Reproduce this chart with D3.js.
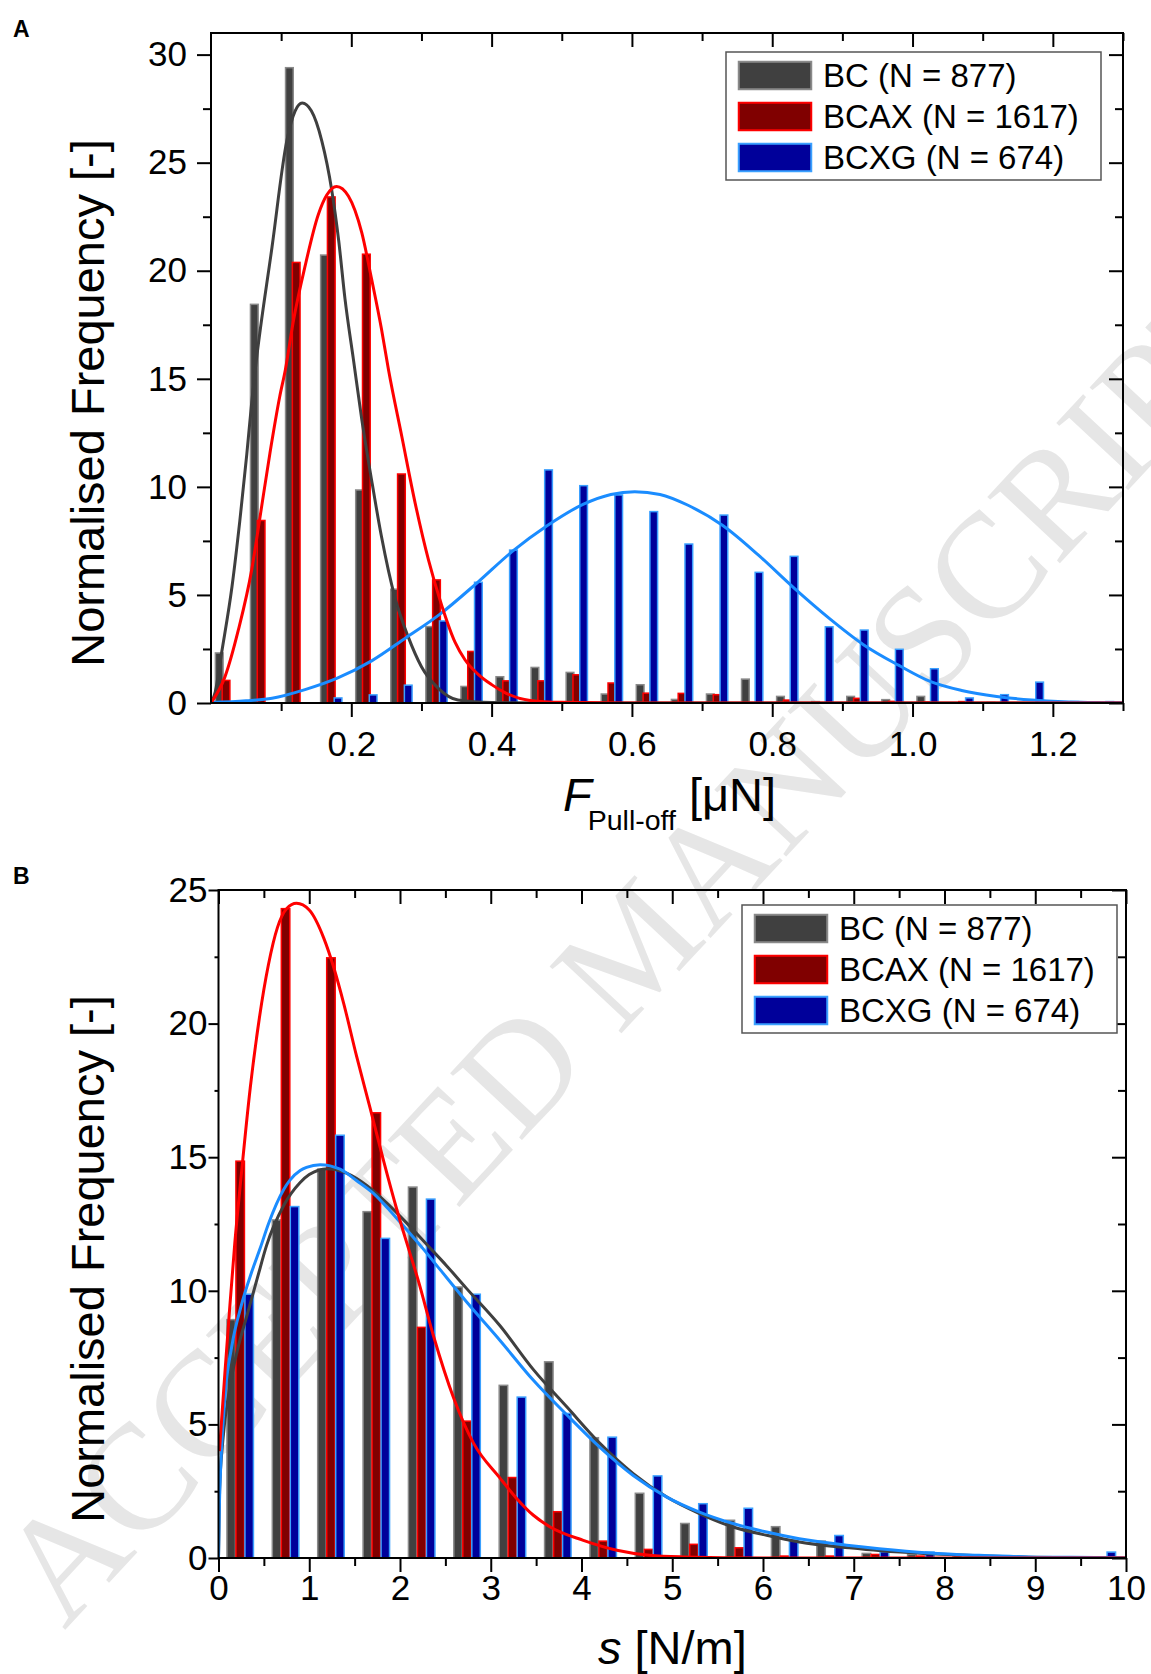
<!DOCTYPE html>
<html><head><meta charset="utf-8">
<script src="https://cdn.jsdelivr.net/npm/d3@7"></script>
<style>body{margin:0;background:#fff} svg{display:block}</style>
</head><body>
<svg id="c" width="1151" height="1674"></svg>
<script>
// ---------------- DATA ----------------
const seriesNames = ["BC (N = 877)", "BCAX (N = 1617)", "BCXG (N = 674)"];

// Panel A: pull-off force histogram (bin centres, µN)
const binsA = [0.025,0.075,0.125,0.175,0.225,0.275,0.325,0.375,0.425,0.475,0.525,0.575,0.625,0.675,0.725,0.775,0.825,0.875,0.925,0.975,1.025,1.075,1.125,1.175,1.225,1.275];
const bcA   = [2.35,18.48,29.43,20.76,9.89,5.3,3.57,0.80,1.25,1.68,1.45,0.45,0.88,0.2,0.45,1.14,0.34,0.1,0.34,0.19,0.34,0,0.06,0,0.06,0.06];
const bcaxA = [1.08,8.48,20.42,23.45,20.8,10.63,5.73,2.42,1.06,1.06,1.34,0.96,0.49,0.48,0.42,0.05,0.17,0,0.25,0.11,0.08,0.1,0,0,0,0];
const bcxgA = [0,0,0,0.27,0.41,0.86,3.83,5.62,7.11,10.82,10.09,9.66,8.89,7.39,8.73,6.08,6.82,3.56,3.41,2.52,1.62,0.27,0.42,1.0,0.1,0.1];

// Panel A fitted curves
const fitA_BC = [[0,0],[0.006,0.5],[0.015,2.3],[0.03,5.4],[0.041,8.4],[0.051,11.5],[0.058,13.9],[0.063,15.4],[0.087,21.1],[0.108,26.0],[0.12,27.4],[0.13,27.76],[0.143,27.4],[0.158,26.0],[0.172,23.75],[0.182,21.4],[0.191,18.7],[0.203,15.9],[0.215,13.1],[0.229,10.3],[0.243,7.7],[0.262,4.9],[0.281,3.07],[0.3,1.68],[0.324,0.68],[0.352,0.14],[0.4,0.02],[0.5,0],[1.3,0]];
const fitA_BCAX = [[0,0],[0.02,1.22],[0.039,3.38],[0.058,6.16],[0.07,8.63],[0.084,11.56],[0.098,14.18],[0.106,15.42],[0.117,17.6],[0.134,20.2],[0.153,22.6],[0.165,23.5],[0.179,23.9],[0.196,23.45],[0.215,21.75],[0.229,19.6],[0.243,17.3],[0.253,15.42],[0.272,12.33],[0.291,9.25],[0.31,6.62],[0.329,4.5],[0.348,2.8],[0.362,2.0],[0.38,1.35],[0.4,0.85],[0.421,0.45],[0.455,0.12],[0.5,0.03],[0.6,0],[1.3,0]];
const fitA_BCXG = [[0,0.02],[0.05,0.1],[0.087,0.22],[0.134,0.62],[0.18,1.15],[0.229,1.95],[0.277,3.0],[0.326,4.1],[0.379,5.55],[0.429,7.0],[0.479,8.2],[0.531,9.2],[0.57,9.65],[0.604,9.78],[0.64,9.65],[0.68,9.15],[0.73,8.2],[0.78,6.85],[0.83,5.35],[0.88,3.95],[0.93,2.7],[0.98,1.75],[1.025,1.0],[1.07,0.58],[1.12,0.3],[1.17,0.14],[1.215,0.06],[1.3,0.01]];

// Panel B: stiffness histogram (bin centres, N/m)
const binsB = [0.25,0.75,1.25,1.75,2.25,2.75,3.25,3.75,4.25,4.75,5.25,5.75,6.25,6.75,7.25,7.75,8.25,8.75,9.25,9.75];
const bcB   = [8.95,12.68,14.58,12.99,13.91,10.17,6.49,7.37,4.53,2.45,1.32,1.44,1.2,0.66,0.2,0.16,0.12,0.05,0,0];
const bcaxB = [14.88,24.33,22.49,16.69,8.66,5.15,3.04,1.76,0.66,0.35,0.54,0.41,0.1,0.1,0.16,0.1,0.03,0.02,0,0];
const bcxgB = [9.9,13.18,15.85,11.99,13.46,9.9,6.05,5.44,4.55,3.1,2.06,1.89,0.7,0.87,0.26,0.25,0.1,0.05,0,0.25];

const fitB_BC = [[0,0],[0.012,2.5],[0.048,4.4],[0.12,6.3],[0.21,7.8],[0.32,9.15],[0.43,10.5],[0.53,11.7],[0.72,13.2],[0.9,14.05],[1.0,14.35],[1.2,14.57],[1.41,14.4],[1.63,13.95],[1.85,13.3],[2.07,12.55],[2.29,11.75],[2.51,10.95],[2.73,10.1],[3.1,8.7],[3.47,7.05],[3.84,5.65],[4.2,4.3],[4.57,3.16],[4.94,2.28],[5.3,1.66],[5.67,1.16],[6.04,0.85],[6.4,0.6],[6.95,0.38],[7.3,0.27],[7.83,0.16],[8.38,0.08],[8.93,0.03],[9.5,0.01],[10,0]];
const fitB_BCAX = [[0.01,4.0],[0.07,6.9],[0.12,9.2],[0.18,11.8],[0.25,14.3],[0.35,17.6],[0.45,20.2],[0.55,22.2],[0.65,23.6],[0.75,24.3],[0.86,24.5],[1.0,24.25],[1.16,23.2],[1.27,22.1],[1.38,20.75],[1.52,18.8],[1.67,16.85],[1.82,14.85],[1.96,13.1],[2.11,11.4],[2.2,10.4],[2.37,8.3],[2.59,6.0],[2.81,4.3],[3.1,3.0],[3.28,2.25],[3.47,1.6],[3.65,1.17],[4.02,0.66],[4.39,0.29],[4.75,0.1],[5.12,0.04],[6,0],[10,0]];
const fitB_BCXG = [[0,0],[0.0095,1.9],[0.028,3.7],[0.072,6.1],[0.145,7.9],[0.255,9.5],[0.36,10.65],[0.46,11.6],[0.55,12.5],[0.72,13.8],[0.79,14.15],[0.9,14.5],[0.97,14.62],[1.12,14.72],[1.34,14.55],[1.52,14.13],[1.71,13.64],[1.89,13.0],[2.07,12.3],[2.26,11.55],[2.44,10.8],[2.73,9.6],[3.1,8.15],[3.47,6.65],[3.84,5.35],[4.2,4.15],[4.57,3.09],[4.94,2.28],[5.3,1.72],[5.67,1.29],[6.04,0.97],[6.4,0.72],[6.95,0.47],[7.28,0.35],[7.83,0.19],[8.38,0.1],[8.93,0.04],[9.85,0.01],[10,0]];

// Axis ticks
const xMajorA = [0.2,0.4,0.6,0.8,1.0,1.2];
const xMinorA = [0.1,0.3,0.5,0.7,0.9,1.1,1.3];
const yMajorA = [0,5,10,15,20,25,30];
const yMinorA = [2.5,7.5,12.5,17.5,22.5,27.5];
const xMajorB = [0,1,2,3,4,5,6,7,8,9,10];
const xMinorB = [0.5,1.5,2.5,3.5,4.5,5.5,6.5,7.5,8.5,9.5];
const yMajorB = [0,5,10,15,20,25];
const yMinorB = [2.5,7.5,12.5,17.5,22.5];

// ---------------- STYLE ----------------
const FONT = "'Liberation Sans', Arial, Helvetica, sans-serif";
const fills   = ["#404040", "#800000", "#00009a"];
const borders = ["#8a8a8a", "#ff0000", "#3aa0ff"];
const lineCol = ["#3f3f3f", "#ff0000", "#1a8cff"];

const svg = d3.select("#c");
svg.append("rect").attr("width",1151).attr("height",1674).attr("fill","#fff");

// watermark
svg.append("text")
  .attr("transform","translate(27,1596) rotate(-47)")
  .attr("text-anchor","start").attr("dominant-baseline","central")
  .attr("font-family","'Liberation Serif', 'Times New Roman', serif")
  .attr("font-size",150).attr("fill","#e6e6e6")
  .text("ACCEPTED MANUSCRIPT");

function panel(cfg){
  const {L,R,T,B} = cfg;
  const x = d3.scaleLinear().domain(cfg.xDom).range([L,R]);
  const y = d3.scaleLinear().domain(cfg.yDom).range([B,T]);
  const g = svg.append("g");
  const clipId = "clip"+cfg.id;
  svg.append("clipPath").attr("id",clipId).append("rect")
    .attr("x",L).attr("y",T).attr("width",R-L).attr("height",B-T);
  const plot = g.append("g").attr("clip-path",`url(#${clipId})`);

  const series = [cfg.s0, cfg.s1, cfg.s2];
  const wpx = cfg.barW, step = cfg.barStep;
  series.forEach((vals,si)=>{
    plot.append("g").selectAll("rect").data(vals.map((v,i)=>({c:cfg.bins[i],v})))
      .join("rect")
      .attr("x",d=>x(d.c)+cfg.shift+(si-1)*step-wpx/2+0.75)
      .attr("width",wpx-1.5)
      .attr("y",d=>y(d.v)+0.75)
      .attr("height",d=>Math.max(0,y(0)-y(d.v)-0.75))
      .attr("fill",fills[si]).attr("stroke",borders[si]).attr("stroke-width",1.5)
      .attr("display",d=>d.v>0?null:"none");
  });
  const line = d3.line().x(d=>x(d[0])).y(d=>y(d[1])).curve(d3.curveMonotoneX);
  [[cfg.f0,0],[cfg.f2,2],[cfg.f1,1]].forEach(([f,si])=>{
    plot.append("path").attr("d",line(f)).attr("fill","none")
      .attr("stroke",lineCol[si]).attr("stroke-width",3).attr("stroke-linejoin","round");
  });

  // axes
  const styleAxis = (sel)=>{ sel.select(".domain").remove();
    sel.selectAll("line").attr("stroke","#000").attr("stroke-width",2);
    sel.selectAll("text").attr("font-family",FONT).attr("font-size",cfg.tickFont).attr("fill","#000"); };
  g.append("g").attr("transform",`translate(0,${B})`)
    .call(d3.axisBottom(x).tickValues(cfg.xMaj).tickSize(14).tickPadding(cfg.xPad).tickFormat(cfg.xFmt)).call(styleAxis);
  g.append("g").attr("transform",`translate(0,${B})`)
    .call(d3.axisBottom(x).tickValues(cfg.xMin).tickSize(8).tickFormat("")).call(styleAxis);
  g.append("g").attr("transform",`translate(0,${T})`)
    .call(d3.axisTop(x).tickValues(cfg.xMaj).tickSize(-14).tickFormat("")).call(styleAxis);
  g.append("g").attr("transform",`translate(0,${T})`)
    .call(d3.axisTop(x).tickValues(cfg.xMin).tickSize(-8).tickFormat("")).call(styleAxis);
  g.append("g").attr("transform",`translate(${L},0)`)
    .call(d3.axisLeft(y).tickValues(cfg.yMaj).tickSize(cfg.yTick).tickPadding(cfg.yPad).tickFormat(d3.format("d"))).call(styleAxis);
  g.append("g").attr("transform",`translate(${L},0)`)
    .call(d3.axisLeft(y).tickValues(cfg.yMin).tickSize(cfg.yTick-6).tickFormat("")).call(styleAxis);
  g.append("g").attr("transform",`translate(${R},0)`)
    .call(d3.axisRight(y).tickValues(cfg.yMaj).tickSize(-14).tickFormat("")).call(styleAxis);
  g.append("g").attr("transform",`translate(${R},0)`)
    .call(d3.axisRight(y).tickValues(cfg.yMin).tickSize(-8).tickFormat("")).call(styleAxis);
  g.append("rect").attr("x",L).attr("y",T).attr("width",R-L).attr("height",B-T)
    .attr("fill","none").attr("stroke","#000").attr("stroke-width",2);

  // y title
  g.append("text").attr("transform",`translate(${cfg.yTitleX},${(T+B)/2+35}) rotate(-90)`)
    .attr("text-anchor","middle").attr("font-family",FONT).attr("font-size",47)
    .text("Normalised Frequency [-]");

  // legend
  const lg = g.append("g").attr("transform",`translate(${cfg.legX},${cfg.legY})`);
  lg.append("rect").attr("width",375).attr("height",128).attr("fill","#fff").attr("stroke","#555").attr("stroke-width",1.5);
  seriesNames.forEach((n,i)=>{
    lg.append("rect").attr("x",12.75).attr("y",9.75+i*41).attr("width",72.5).attr("height",27.5)
      .attr("fill",fills[i]).attr("stroke",borders[i]).attr("stroke-width",2);
    lg.append("text").attr("x",97).attr("y",35+i*41).attr("font-family",FONT).attr("font-size",33).text(n);
  });

  // panel letter
  g.append("text").attr("x",cfg.letX).attr("y",cfg.letY).attr("font-family",FONT)
    .attr("font-weight","bold").attr("font-size",23).text(cfg.id);
  return {x,y,g};
}

const A = panel({id:"A", L:211, R:1123, T:33, B:703, xDom:[0,1.3], yDom:[0,31],
  bins:binsA, s0:bcA, s1:bcaxA, s2:bcxgA, f0:fitA_BC, f1:fitA_BCAX, f2:fitA_BCXG,
  barW:9.2, barStep:6.8, shift:-2.5,
  xMaj:xMajorA, xMin:xMinorA, yMaj:yMajorA, yMin:yMinorA, xFmt:d3.format(".1f"),
  tickFont:35, xPad:14, yPad:10, yTick:14, yTitleX:104, legX:726, legY:52, letX:13, letY:37});

// x title A
A.g.append("text").attr("x",563).attr("y",811).attr("font-family",FONT).attr("font-size",47)
  .call(t=>{ t.append("tspan").attr("font-style","italic").text("F");
             t.append("tspan").attr("font-size",28.5).attr("dy",19).attr("dx",-4).text("Pull-off");
             t.append("tspan").attr("dy",-19).text(" [μN]"); });

const Bp = panel({id:"B", L:218.5, R:1126, T:890, B:1558, xDom:[0,10], yDom:[0,25],
  bins:binsB, s0:bcB, s1:bcaxB, s2:bcxgB, f0:fitB_BC, f1:fitB_BCAX, f2:fitB_BCXG,
  barW:10, barStep:9, shift:-1,
  xMaj:xMajorB, xMin:xMinorB, yMaj:yMajorB, yMin:yMinorB, xFmt:d3.format("d"),
  tickFont:35, xPad:3, yPad:1, yTick:10, yTitleX:104, legX:742, legY:905, letX:13, letY:884});

Bp.g.append("text").attr("x",598).attr("y",1664).attr("font-family",FONT).attr("font-size",47)
  .call(t=>{ t.append("tspan").attr("font-style","italic").text("s");
             t.append("tspan").text(" [N/m]"); });
</script>
</body></html>
